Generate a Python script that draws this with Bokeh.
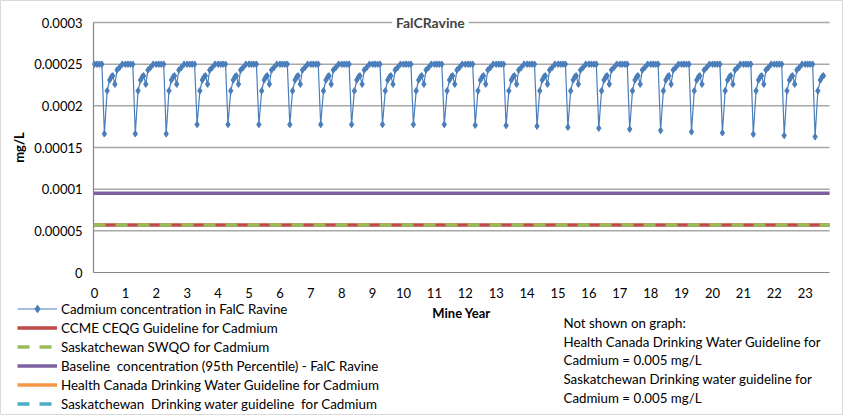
from bokeh.plotting import figure
from bokeh.models import Range1d, FixedTicker, Legend, LegendItem, Label, LinearAxis
from bokeh.embed import file_html
from bokeh.resources import INLINE

FONT = "Lato"

# ---- data ----
mine_years = list(range(24))
x_tick_labels = [str(y) for y in mine_years]
y_ticks = [0.0, 0.00005, 0.0001, 0.00015, 0.0002, 0.00025, 0.0003]
y_tick_labels = ["0", "0.00005", "0.0001", "0.00015", "0.0002", "0.00025", "0.0003"]

# position of each sample within a mine year (fraction of the year)
cycle_offsets = [0.0, 0.08, 0.16, 0.24, 0.32, 0.41, 0.49, 0.55, 0.59, 0.66, 0.73, 0.81, 0.90]
# seasonal profile (mg/L): plateau, annual minimum (None), recovery, plateau
cycle_profile = [0.00025, 0.00025, 0.00025, 0.00025, None,
                 0.000218, 0.000231, 0.000235, 0.000236, 0.000226, 0.000243, 0.000246, 0.00025]
annual_minimum = [0.0001664, 0.0001664, 0.0001664,
                  0.0001776, 0.0001776, 0.0001776, 0.0001776, 0.0001776, 0.0001776,
                  0.0001776, 0.0001776, 0.0001776,
                  0.0001768, 0.0001764, 0.0001756, 0.0001744, 0.0001732, 0.0001720,
                  0.0001704, 0.0001688, 0.0001676, 0.0001660, 0.0001644, 0.0001628]
samples_in_last_year = 9

ccme_ceqg = 0.000057
sask_swqo = 0.000057
baseline_95th = 0.000095
health_canada_dw = 0.005
sask_dw = 0.005

cad_x, cad_y = [], []
for yr, mn in zip(mine_years, annual_minimum):
    n = samples_in_last_year if yr == mine_years[-1] else len(cycle_offsets)
    for off, v in list(zip(cycle_offsets, cycle_profile))[:n]:
        cad_x.append(yr + off)
        cad_y.append(mn if v is None else v)

# ---- geometry: the frame covers the whole canvas; the plotting area is a part of it ----
W, H = 843, 415
px_per_year = 30.9
px_per_unit = 250 / 0.0003
x_zero_px = 94          # x = 0, measured from the canvas left
y_zero_px = 143         # y = 0, measured from the canvas bottom
plot_x0, plot_x1 = -0.032, 23.79      # plotting area, in data units

x_range = Range1d(-x_zero_px / px_per_year, (W - x_zero_px) / px_per_year)
y_range = Range1d(-y_zero_px / px_per_unit, (H - y_zero_px) / px_per_unit)

p = figure(width=W, height=H, output_backend="svg", toolbar_location=None,
           x_range=x_range, y_range=y_range,
           x_axis_location=None, y_axis_location=None,
           min_border=0)
p.outline_line_color = "#D9D9D9"
p.background_fill_color = "white"
p.xgrid.visible = False
p.ygrid.visible = False

# horizontal gridlines over the plotting area
p.segment(x0=[plot_x0] * len(y_ticks[1:]), x1=[plot_x1] * len(y_ticks[1:]),
          y0=y_ticks[1:], y1=y_ticks[1:], line_color="#A8A8A8", line_width=1.5)

# axes fixed to the plotting area
xaxis = LinearAxis(fixed_location=0, bounds=(plot_x0, plot_x1),
                   ticker=FixedTicker(ticks=mine_years),
                   major_label_overrides=dict(zip(mine_years, x_tick_labels)),
                   axis_label="Mine Year")
yaxis = LinearAxis(fixed_location=plot_x0, bounds=(0, 0.0003),
                   ticker=FixedTicker(ticks=y_ticks),
                   major_label_overrides=dict(zip(y_ticks, y_tick_labels)),
                   axis_label="mg/L")
for ax in (xaxis, yaxis):
    ax.axis_line_color = "#868686"
    ax.axis_line_width = 1.2
    ax.major_tick_line_color = None
    ax.minor_tick_line_color = None
    ax.major_label_text_font = FONT
    ax.major_label_text_font_size = "13px"
    ax.major_label_text_color = "#000000"
    ax.axis_label_text_font = FONT
    ax.axis_label_text_font_size = "13px"
    ax.axis_label_text_font_style = "bold"
    ax.axis_label_text_color = "#000000"
xaxis.major_label_standoff = 9
xaxis.axis_label_standoff = 4
yaxis.major_label_standoff = 5
yaxis.axis_label_standoff = 4
p.add_layout(xaxis, "below")
p.add_layout(yaxis, "left")

# guideline lines
xs = [plot_x0, plot_x1]
r_ccme = p.line(xs, [ccme_ceqg] * 2, line_color="#BE4B48", line_width=3.5)
r_swqo = p.line(xs, [sask_swqo] * 2, line_color="#9BBB59", line_width=3.5, line_dash="12 10")
r_base = p.line(xs, [baseline_95th] * 2, line_color="#7D60A0", line_width=3.5)
r_hc = p.line(xs, [health_canada_dw] * 2, line_color="#F79646", line_width=3.5)
r_sdw = p.line(xs, [sask_dw] * 2, line_color="#4BACC6", line_width=3.5, line_dash="12 10")

# cadmium series
r_cl = p.line(cad_x, cad_y, line_color="#4A7EBB", line_width=1.2)
r_cm = p.scatter(cad_x, cad_y, marker="diamond", size=6.5, fill_color="#4A7EBB",
                 line_color="#4A7EBB")

# title on the top gridline
p.add_layout(Label(x=10.87, y=0.0003, text="FalCRavine", text_font=FONT,
                   text_font_size="14px", text_font_style="bold", text_align="center",
                   text_baseline="middle", background_fill_color="white",
                   padding=4))

legend = Legend(items=[
    LegendItem(label="Cadmium concentration in FalC Ravine", renderers=[r_cl, r_cm]),
    LegendItem(label="CCME CEQG Guideline for Cadmium", renderers=[r_ccme]),
    LegendItem(label="Saskatchewan SWQO for Cadmium", renderers=[r_swqo]),
    LegendItem(label="Baseline  concentration (95th Percentile) - FalC Ravine", renderers=[r_base]),
    LegendItem(label="Health Canada Drinking Water Guideline for Cadmium", renderers=[r_hc]),
    LegendItem(label="Saskatchewan  Drinking water guideline  for Cadmium", renderers=[r_sdw]),
], location=(17, 2), orientation="vertical")
legend.background_fill_alpha = 0
legend.border_line_color = None
legend.padding = 0
legend.margin = 0
legend.spacing = 0
legend.label_height = 19
legend.glyph_height = 19
legend.glyph_width = 40
legend.label_standoff = 4
legend.label_text_font = FONT
legend.label_text_font_size = "13.4px"
legend.label_text_color = "#000000"
p.add_layout(legend, "center")

note_lines = ["Not shown on graph:",
              "Health Canada Drinking Water Guideline for",
              "Cadmium = 0.005 mg/L",
              "Saskatchewan Drinking water guideline for",
              "Cadmium = 0.005 mg/L"]
note_y_px = [93, 74, 56, 37, 18]
for t, yy in zip(note_lines, note_y_px):
    p.add_layout(Label(x=563, y=yy, x_units="screen", y_units="screen", text=t,
                       text_font=FONT, text_font_size="13.3px", text_color="#000000",
                       text_baseline="middle"))

open("out.html", "w").write(file_html(p, INLINE))
